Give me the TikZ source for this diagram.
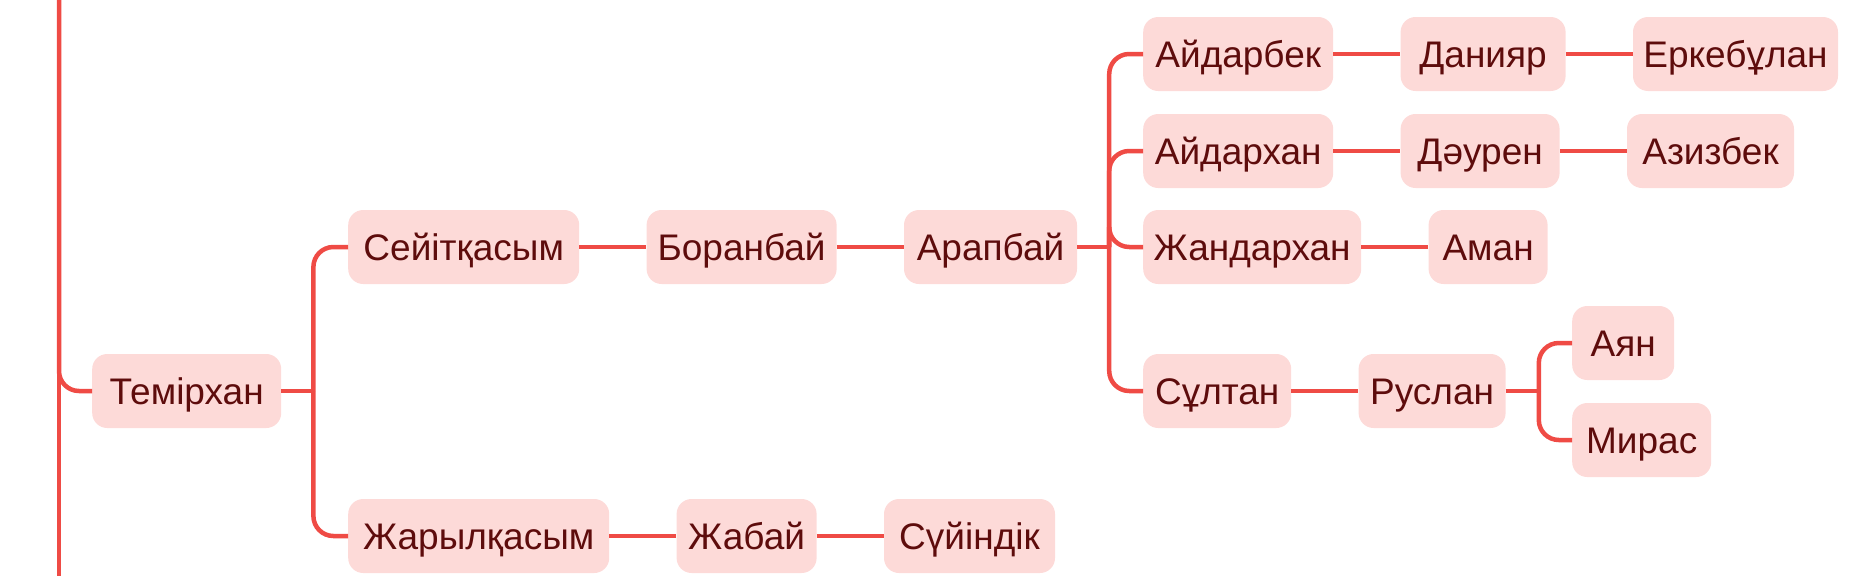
\documentclass[tikz,border=0pt]{standalone}
\usepackage{fontspec}
\setmainfont{Liberation Sans}
\usetikzlibrary{positioning}
\definecolor{linkred}{HTML}{EF4B45}
\definecolor{boxpink}{HTML}{FDDAD8}
\definecolor{namered}{HTML}{5E0C0C}
\tikzstyle{person} = [rectangle, rounded corners=15pt, minimum height=74pt, inner sep=0pt, text height=34pt, text depth=8pt, text centered, fill=boxpink, text=namered, font=\fontsize{37}{44}\selectfont]
\tikzstyle{link} = [draw=linkred, line width=4.5pt, rounded corners=20pt]

\begin{document}
\begin{tikzpicture}[x=1pt, y=-1pt, node distance=67pt]
        \useasboundingbox (0,0) rectangle (1852,576);
        % Nodes
        \node (temir) [person, minimum width=189pt, anchor=west] at (92,391) {Темірхан};
        \node (seit) [person, minimum width=231pt, anchor=west] at (348,247) {Сейітқасым};
        \node (boran) [person, minimum width=190pt, right=of seit] {Боранбай};
        \node (arap) [person, minimum width=173pt, right=of boran] {Арапбай};
        \node (zharyl) [person, minimum width=261pt, anchor=west] at (348,536) {Жарылқасым};
        \node (zhabai) [person, minimum width=140pt, right=of zharyl] {Жабай};
        \node (suyin) [person, minimum width=171pt, right=of zhabai] {Сүйіндік};
        \node (aidarbek) [person, minimum width=190pt, anchor=west] at (1143,54) {Айдарбек};
        \node (daniyar) [person, minimum width=165pt, right=of aidarbek] {Данияр};
        \node (erkebulan) [person, minimum width=205pt, right=of daniyar] {Еркебұлан};
        \node (aidarhan) [person, minimum width=190pt, anchor=west] at (1143,151) {Айдархан};
        \node (dauren) [person, minimum width=159pt, right=of aidarhan] {Дәурен};
        \node (azizbek) [person, minimum width=167pt, right=of dauren] {Азизбек};
        \node (zhandar) [person, minimum width=218pt, anchor=west] at (1143,247) {Жандархан};
        \node (aman) [person, minimum width=119pt, right=of zhandar] {Аман};
        \node (sultan) [person, minimum width=148pt, anchor=west] at (1143,391) {Сұлтан};
        \node (ruslan) [person, minimum width=147pt, right=of sultan] {Руслан};
        \node (ayan) [person, minimum width=102pt, anchor=west] at (1572,343) {Аян};
        \node (miras) [person, minimum width=139pt, anchor=west] at (1572,440) {Мирас};

        % Joints
        \coordinate (rootTop) at (59,0);
        \coordinate (rootBot) at (59,576);
        \path (temir.east) ++(32,0) coordinate (temirJ);
        \path (arap.east) ++(32,0) coordinate (arapJ);
        \path (ruslan.east) ++(33,0) coordinate (ruslanJ);

        % Links
        \draw [link] (rootTop) -- (rootBot);
        \draw [link] (rootTop) |- (temir.west);
        \draw [link] (temir.east) -- (temirJ);
        \draw [link] (temirJ) |- (seit.west);
        \draw [link] (temirJ) |- (zharyl.west);
        \draw [link] (seit) -- (boran);
        \draw [link] (boran) -- (arap);
        \draw [link] (zharyl) -- (zhabai);
        \draw [link] (zhabai) -- (suyin);
        \draw [link] (arap.east) -- (arapJ);
        \draw [link] (arapJ) |- (aidarbek.west);
        \draw [link] (arapJ) |- (aidarhan.west);
        \draw [link] (arapJ) |- (zhandar.west);
        \draw [link] (arapJ) |- (sultan.west);
        \draw [link] (aidarbek) -- (daniyar);
        \draw [link] (daniyar) -- (erkebulan);
        \draw [link] (aidarhan) -- (dauren);
        \draw [link] (dauren) -- (azizbek);
        \draw [link] (zhandar) -- (aman);
        \draw [link] (sultan) -- (ruslan);
        \draw [link] (ruslan.east) -- (ruslanJ);
        \draw [link] (ruslanJ) |- (ayan.west);
        \draw [link] (ruslanJ) |- (miras.west);

    \end{tikzpicture}
\end{document}
